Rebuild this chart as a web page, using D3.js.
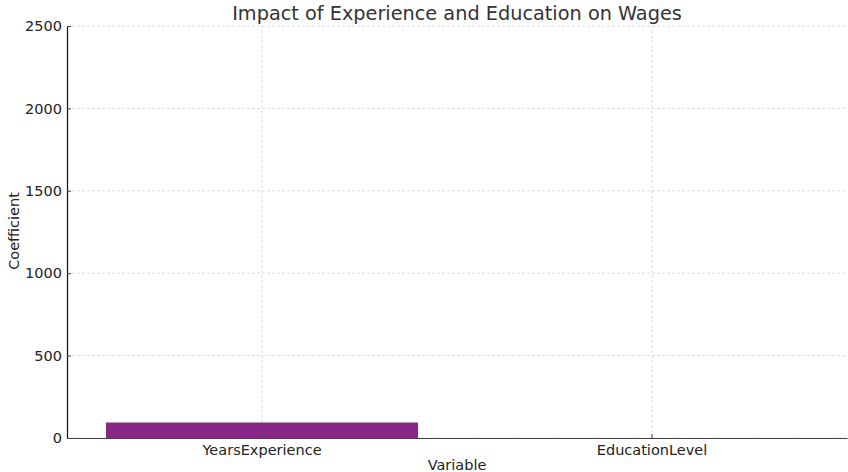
<!DOCTYPE html>
<html>
<head>
<meta charset="utf-8">
<script src="https://cdn.jsdelivr.net/npm/d3@7"></script>
<style>
  body { margin: 0; background: #fff; }
  text { font-family: "DejaVu Sans", sans-serif; }
</style>
</head>
<body>
<svg id="chart" width="848" height="472"></svg>
<script>
var categories = ["YearsExperience", "EducationLevel"];
var coefficients = [94, 0];
var yTicks = [0, 500, 1000, 1500, 2000, 2500];

var svg = d3.select("#chart"),
    WIDTH = 848,
    HEIGHT = 472,
    MARGINS = { top: 26, right: 1, bottom: 34, left: 67 };

var data = categories.map(function(c, i) { return { name: c, value: coefficients[i] }; });

var xScale = d3.scaleBand()
  .domain(categories)
  .range([MARGINS.left, WIDTH - MARGINS.right])
  .paddingInner(0.2)
  .paddingOuter(0.1);

var yScale = d3.scaleLinear()
  .domain([0, 2500])
  .range([HEIGHT - MARGINS.bottom, MARGINS.top]);

// grid
svg.append("g")
  .selectAll("line")
  .data(yTicks)
  .enter().append("line")
  .attr("x1", MARGINS.left)
  .attr("x2", WIDTH - MARGINS.right)
  .attr("y1", function(d) { return yScale(d); })
  .attr("y2", function(d) { return yScale(d); })
  .attr("stroke", "#d6d6d6")
  .attr("stroke-width", 0.8)
  .attr("stroke-dasharray", "3,2");

svg.append("g")
  .selectAll("line")
  .data(categories)
  .enter().append("line")
  .attr("x1", function(d) { return xScale(d) + xScale.bandwidth() / 2; })
  .attr("x2", function(d) { return xScale(d) + xScale.bandwidth() / 2; })
  .attr("y1", yScale(0))
  .attr("y2", yScale(2500))
  .attr("stroke", "#d6d6d6")
  .attr("stroke-width", 0.8)
  .attr("stroke-dasharray", "3,2");

// bars
svg.append("g")
  .selectAll("rect")
  .data(data)
  .enter().append("rect")
  .attr("x", function(d) { return xScale(d.name); })
  .attr("width", xScale.bandwidth())
  .attr("y", function(d) { return yScale(d.value); })
  .attr("height", function(d) { return yScale(0) - yScale(d.value); })
  .attr("fill", "#882788");

// axes
var xAxis = d3.axisBottom(xScale).tickSizeInner(-4).tickSizeOuter(0).tickPadding(7);
var gx = svg.append("g")
  .attr("transform", "translate(0," + yScale(0) + ")")
  .call(xAxis);
gx.select(".domain").attr("stroke", "#444").attr("stroke-width", 1.2);
gx.selectAll(".tick line").attr("stroke", "#444");
gx.selectAll(".tick text").attr("font-size", 14.5).attr("fill", "#222")
  .style("font-family", "DejaVu Sans, sans-serif");

var yAxis = d3.axisLeft(yScale).tickValues(yTicks).tickFormat(d3.format("d"))
  .tickSizeInner(-4).tickSizeOuter(0).tickPadding(5);
var gy = svg.append("g")
  .attr("transform", "translate(" + MARGINS.left + ",0)")
  .call(yAxis);
gy.select(".domain").attr("stroke", "#111").attr("stroke-width", 1.2);
gy.selectAll(".tick line").attr("stroke", "#444");
gy.selectAll(".tick text").attr("font-size", 14.5).attr("fill", "#222")
  .style("font-family", "DejaVu Sans, sans-serif");

// labels
svg.append("text")
  .attr("x", (MARGINS.left + WIDTH - MARGINS.right) / 2)
  .attr("y", 20)
  .attr("text-anchor", "middle")
  .attr("font-size", 19.3)
  .attr("fill", "#333")
  .text("Impact of Experience and Education on Wages");

svg.append("text")
  .attr("x", (MARGINS.left + WIDTH - MARGINS.right) / 2)
  .attr("y", 470)
  .attr("text-anchor", "middle")
  .attr("font-size", 14.5)
  .attr("fill", "#222")
  .text("Variable");

svg.append("text")
  .attr("transform", "translate(19,231) rotate(-90)")
  .attr("text-anchor", "middle")
  .attr("font-size", 14.5)
  .attr("fill", "#222")
  .text("Coefficient");
</script>
</body>
</html>
